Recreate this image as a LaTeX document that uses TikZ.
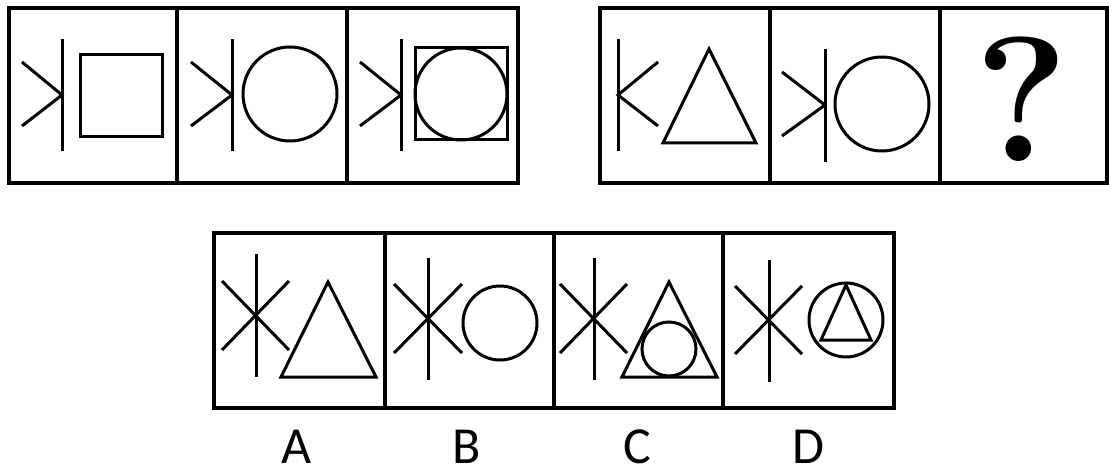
\documentclass[tikz,border=0pt]{standalone}
\usepackage{fontspec}
\newfontfamily\labelfont{Carlito}

\begin{document}
\begin{tikzpicture}[
    x=1pt, y=-1pt,
    % Styles
    panel/.style={draw=black, line width=3.4pt},
    figline/.style={draw=black, line width=3pt},
    choice/.style={font=\labelfont\fontsize{52}{52}\selectfont, inner sep=1pt},
]
    \useasboundingbox (0,0) rectangle (1109,473);

    % Left row of the question
    \draw[panel] (9,8) rectangle (518,183);
    \draw[panel] (177,8) -- (177,183);
    \draw[panel] (347,8) -- (347,183);

    \draw[figline] (62,39) -- (62,151);
    \draw[figline] (22,62) -- (62,95) -- (22,126);
    \draw[figline] (80,55) rectangle (162,137);

    \draw[figline] (232,39) -- (232,151);
    \draw[figline] (191,62) -- (232,95) -- (191,126);
    \draw[figline] (290,94) circle[radius=47];

    \draw[figline] (401,39) -- (401,151);
    \draw[figline] (360,62) -- (401,95) -- (360,126);
    \draw[figline] (415,48) rectangle (507,140);
    \draw[figline] (461,94) circle[radius=46];

    % Right row of the question
    \draw[panel] (600,8) rectangle (1107,183);
    \draw[panel] (770,8) -- (770,183);
    \draw[panel] (940,8) -- (940,183);

    \draw[figline] (618,39) -- (618,151);
    \draw[figline] (658,62) -- (618,95) -- (658,126);
    \draw[figline] (709,49) -- (756,143) -- (663,143) -- cycle;

    \draw[figline] (825,49) -- (825,162);
    \draw[figline] (782,72) -- (825,105) -- (782,136);
    \draw[figline] (882,104) circle[radius=47];

    \node[font=\bfseries\fontsize{178}{178}\selectfont, inner sep=0pt] (qmark) at (1022,99) {?};

    % Answer options
    \draw[panel] (214,233) rectangle (894,408);
    \draw[panel] (385,233) -- (385,408);
    \draw[panel] (554,233) -- (554,408);
    \draw[panel] (723,233) -- (723,408);

    \draw[figline] (256,254) -- (256,377);
    \draw[figline] (222,281) -- (289,350);
    \draw[figline] (222,350) -- (289,281);
    \draw[figline] (328,282) -- (376,377) -- (281,377) -- cycle;

    \draw[figline] (428,258) -- (428,380);
    \draw[figline] (394,284) -- (462,353);
    \draw[figline] (394,353) -- (462,284);
    \draw[figline] (500,323) circle[radius=37];

    \draw[figline] (594,258) -- (594,380);
    \draw[figline] (560,284) -- (627,353);
    \draw[figline] (560,353) -- (627,284);
    \draw[figline] (669,282) -- (717,377) -- (622,377) -- cycle;
    \draw[figline] (669,349) circle[radius=27];

    \draw[figline] (769,260) -- (769,382);
    \draw[figline] (735,286) -- (802,354);
    \draw[figline] (735,354) -- (802,286);
    \draw[figline] (846,320) circle[radius=37];
    \draw[figline] (846,285) -- (871,340) -- (821,340) -- cycle;

    % Option letters
    \node[choice] (optA) at (297,447) {A};
    \node[choice] (optB) at (467,447) {B};
    \node[choice] (optC) at (637,447) {C};
    \node[choice] (optD) at (808,447) {D};

\end{tikzpicture}
\end{document}
